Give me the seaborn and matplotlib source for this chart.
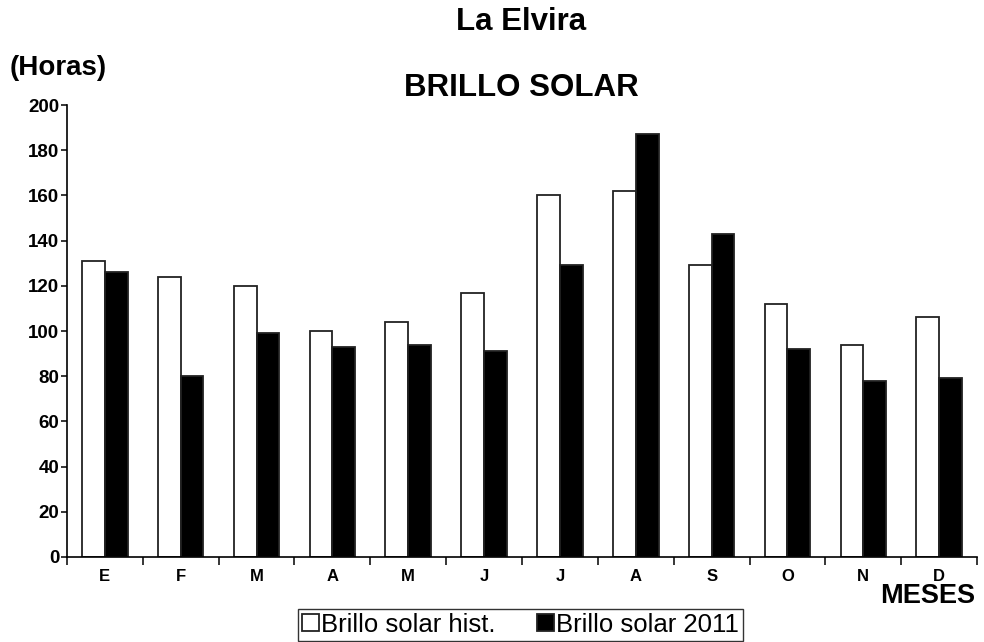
import numpy as np
import pandas as pd
import matplotlib
matplotlib.use("Agg")
import matplotlib.pyplot as plt
import seaborn as sns
from matplotlib.ticker import FixedLocator

# Data
meses = ['E', 'F', 'M', 'A', 'M', 'J', 'J', 'A', 'S', 'O', 'N', 'D']
brillo_hist = [131, 124, 120, 100, 104, 117, 160, 162, 129, 112, 94, 106]
brillo_2011 = [126, 80, 99, 93, 94, 91, 129, 187, 143, 92, 78, 79]
series = ['Brillo solar hist.', 'Brillo solar 2011']

# Long format for seaborn (month index keeps duplicate letters apart)
df = pd.DataFrame({
    'mes': list(range(12)) * 2,
    'horas': brillo_hist + brillo_2011,
    'serie': [series[0]] * 12 + [series[1]] * 12,
})

sns.set_style('white')
plt.rcParams['font.family'] = ['Liberation Sans', 'DejaVu Sans']
plt.rcParams['text.color'] = 'black'
plt.rcParams['xtick.color'] = 'black'
plt.rcParams['ytick.color'] = 'black'

fig = plt.figure(figsize=(9.84, 6.42), dpi=100)
ax = fig.add_axes([0.068, 0.1324, 0.925, 0.704])

sns.barplot(data=df, x='mes', y='horas', hue='serie', hue_order=series,
            palette=['white', 'black'], edgecolor='#222222', linewidth=1.3,
            width=0.6, errorbar=None, ax=ax)

ax.set_ylim(0, 200)
ax.set_xlim(-0.5, 11.5)
ax.set_yticks(range(0, 201, 20))
ax.set_xticks(range(12))
ax.set_xticklabels(meses, fontweight='bold', fontsize=12)
for t in ax.get_yticklabels():
    t.set_fontweight('bold')
    t.set_fontsize(13.5)
ax.xaxis.set_minor_locator(FixedLocator(np.arange(-0.5, 12, 1)))
ax.tick_params(axis='x', which='major', bottom=True, length=0, pad=9)
ax.tick_params(axis='x', which='minor', bottom=True, length=6, width=1.1, direction='out')
ax.tick_params(axis='y', which='major', left=True, length=4.5, width=1.1, direction='out', pad=1)
ax.set_xlabel('')
ax.set_ylabel('')

sns.despine(ax=ax)
for s in ['left', 'bottom']:
    ax.spines[s].set_color('black')
    ax.spines[s].set_linewidth(1.2)

fig.text(0.53, 0.966, 'La Elvira', ha='center', va='center', fontsize=22.5, fontweight='bold')
fig.text(0.53, 0.863, 'BRILLO SOLAR', ha='center', va='center', fontsize=22.5, fontweight='bold')
fig.text(0.01, 0.894, '(Horas)', ha='left', va='center', fontsize=20, fontweight='bold')
fig.text(0.991, 0.072, 'MESES', ha='right', va='center', fontsize=19.5, fontweight='bold')

handles, labels = ax.get_legend_handles_labels()
ax.get_legend().remove()
leg = fig.legend(handles, labels, loc='center', bbox_to_anchor=(0.529, 0.027), ncol=2,
                 fontsize=18.5, frameon=True, fancybox=False, edgecolor='black',
                 handlelength=0.65, handleheight=0.65, handletextpad=0.1,
                 columnspacing=1.6, borderpad=0.15, borderaxespad=0)
leg.get_frame().set_linewidth(1.0)

fig.savefig('out.png', dpi=100)
